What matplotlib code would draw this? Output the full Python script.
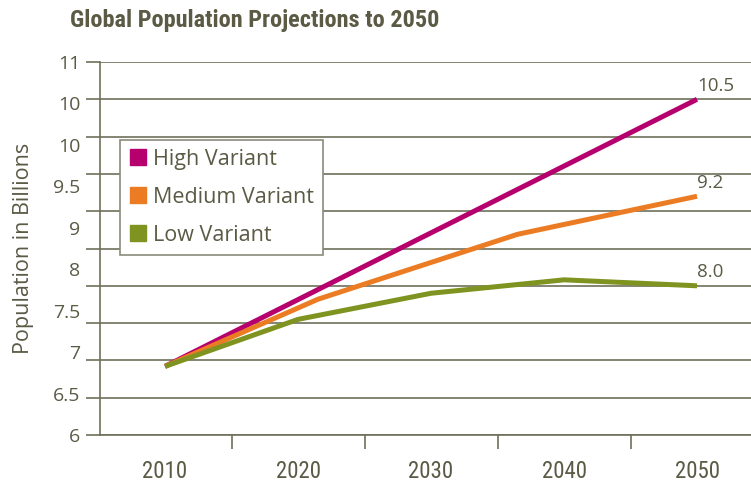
import numpy as np
import matplotlib
matplotlib.use('Agg')
import matplotlib.pyplot as plt
from matplotlib.lines import Line2D

# projections in billions
years_high = [2010, 2050]
high = [6.92, 10.5]
years_med = [2010, 2021.5, 2036.5, 2050]
medium = [6.92, 7.82, 8.69, 9.2]
years_low = [2010, 2020, 2030, 2040, 2050]
low = [6.92, 7.55, 7.9, 8.08, 8.0]

series = ['High Variant', 'Medium Variant', 'Low Variant']
end_labels = ['10.5', '9.2', '8.0']
colors = ['#b5006e', '#ec7c23', '#7f9420']

x_labels = ['2010', '2020', '2030', '2040', '2050']
x_centers = [2010, 2020, 2030, 2040, 2050]
x_bounds = [2015, 2025, 2035, 2045]
y_labels = ['6', '6.5', '7', '7.5', '8', '9', '9.5', '10', '10', '11']

txt = '#5a5a45'
grid = '#70705a'
narrow = ['Roboto Condensed', 'DejaVu Sans']
body = ['Open Sans', 'DejaVu Sans']
plt.rcParams['font.family'] = body

fig = plt.figure(figsize=(7.51, 4.86), dpi=100)
ax = fig.add_axes([100/751, 51/486, 651/751, 373/486])

ax.set_xlim(2005.11, 2054.06)
ax.set_ylim(6, 11)

for xs, ys, c in zip([years_high, years_med, years_low], [high, medium, low], colors):
    ax.plot(xs, ys, color=c, lw=3.6, solid_capstyle='butt', zorder=3)

for ys, lab in zip([high, medium, low], end_labels):
    ax.text(2050.0, ys[-1] + 0.06, lab, fontsize=13.5, color=txt, ha='left', va='bottom')

# gridlines every half billion, labels spaced evenly
ax.set_yticks(np.arange(6, 11.01, 0.5), minor=True)
ax.set_yticks(np.linspace(6, 11, len(y_labels)), y_labels)
ax.yaxis.remove_overlapping_locs = False
ax.grid(axis='y', which='minor', color=grid, lw=1.2)
ax.tick_params(axis='y', which='minor', length=10, width=1.2, color=grid, direction='out')
ax.tick_params(axis='y', which='major', length=0, pad=14, labelsize=14, labelcolor=txt)

ax.set_xticks(x_bounds, minor=True)
ax.set_xticks(x_centers, x_labels)
ax.tick_params(axis='x', which='minor', length=10, width=1.2, color=grid, direction='out')
ax.tick_params(axis='x', which='major', length=0, pad=18, labelcolor=txt)
for t in ax.get_xticklabels():
    t.set_family(narrow)
    t.set_fontsize(16.5)

for s in ['top', 'right']:
    ax.spines[s].set_visible(False)
ax.spines['left'].set_color(grid)
ax.spines['left'].set_linewidth(1.2)
ax.spines['bottom'].set_color(grid)
ax.spines['bottom'].set_linewidth(1.2)
ax.spines['bottom'].set_bounds(2005.11, 2060)
ax.set_axisbelow(True)

ax.set_ylabel('Population in Billions', fontsize=15.5, color=txt)
ax.yaxis.set_label_coords(-0.102, 0.5)

handles = [Line2D([], [], marker='s', ls='none', markersize=11, color=c) for c in colors]
leg = ax.legend(handles, series, loc='upper left', bbox_to_anchor=(0.031, 0.791),
                borderaxespad=0, fancybox=False, framealpha=1, edgecolor='#8a8a7a',
                fontsize=15.5, handletextpad=0.3, labelspacing=0.78, handlelength=0.8,
                borderpad=0.42)
for t in leg.get_texts():
    t.set_color(txt)
leg.get_frame().set_linewidth(1.2)

fig.text(70/751, 1 - 20/486, 'Global Population Projections to 2050', fontsize=17.5,
         fontweight='bold', color=txt, family=narrow, ha='left', va='center')

fig.savefig('out.png', dpi=100)
